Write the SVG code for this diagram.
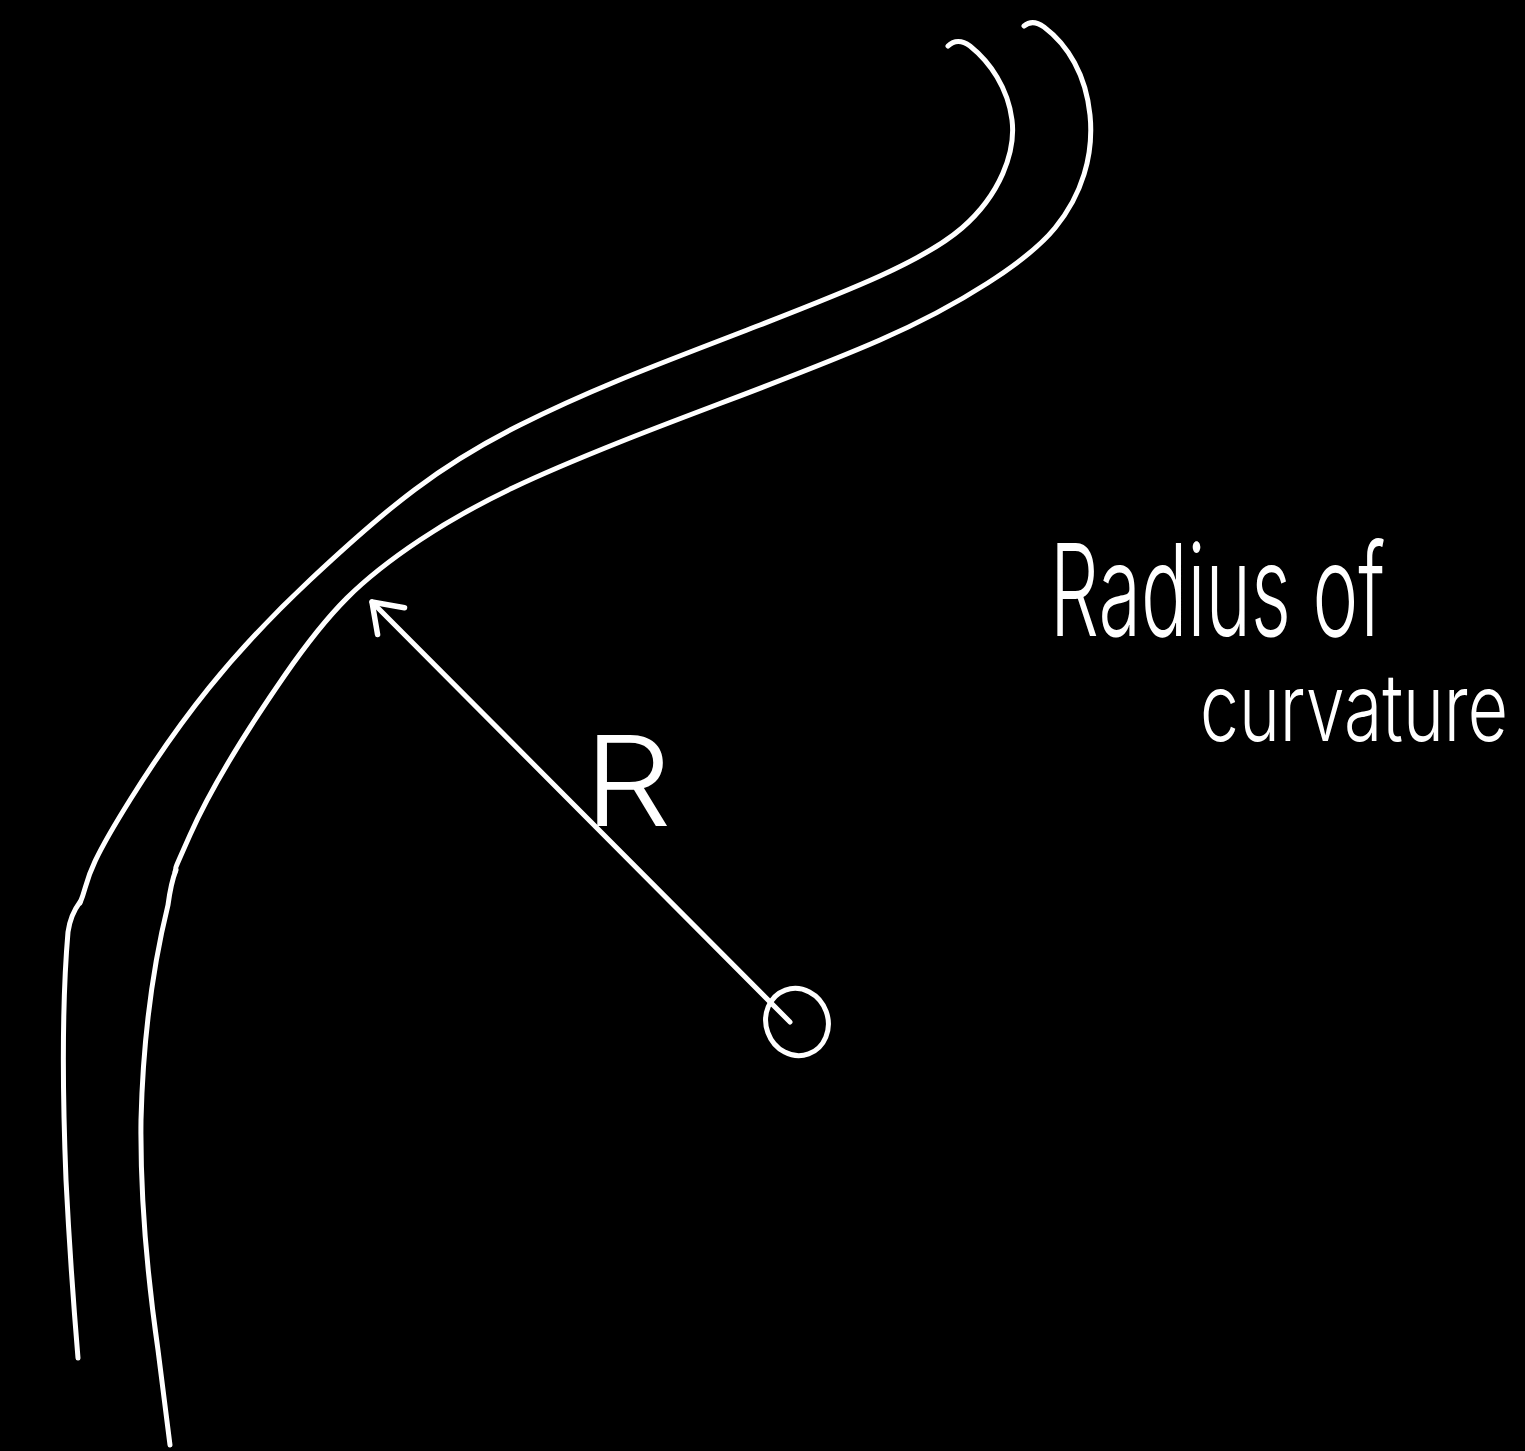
<svg xmlns="http://www.w3.org/2000/svg" width="1525" height="1451" viewBox="0 0 1525 1451">
  <style>
    .ink { fill: none; stroke: #ffffff; stroke-width: 5; stroke-linecap: round; stroke-linejoin: round; }
    .hand { fill: #ffffff; font-family: "Inter", "Lato", "Liberation Sans", sans-serif; font-weight: 300; }
  </style>
  <defs>
    <marker id="chev" markerUnits="userSpaceOnUse" markerWidth="60" markerHeight="60" refX="0" refY="0" viewBox="-40 -30 50 60" orient="auto" overflow="visible">
      <path d="M-27,-19 L0,0 L-27,19" fill="none" stroke="#ffffff" stroke-width="5.5" stroke-linecap="round" stroke-linejoin="round"/>
    </marker>
  </defs>
  <rect width="1525" height="1451" fill="#000000"/>
  <g id="outer-wall">
    <path class="ink" d="M948,46 C954,40 962,40 970,46 C990,62 1008,88 1012,120 S1000,195 962,228 S850,290 760,325 S600,385 520,425 S390,505 310,580 S180,720 130,800 S90,880 80,903"/>
    <path class="ink" d="M80,902 C74,910 70,918 68,932 C63,990 62,1080 66,1180 C70,1260 74,1310 78,1358"/>
  </g>
  <g id="inner-wall">
    <path class="ink" d="M1024,26 C1030,21 1037,22 1044,27 C1068,45 1086,75 1090,115 S1082,195 1055,228 S960,305 880,340 S700,410 620,442 S480,500 420,540 S330,610 285,675 S210,790 190,835 S178,862 175,872"/>
    <path class="ink" d="M176,870 C172,880 170,890 168,905 C152,970 143,1040 141,1120 C140,1200 148,1280 158,1350 C163,1390 167,1420 170,1445"/>
  </g>
  <g id="center">
    <ellipse class="ink" cx="797" cy="1022" rx="31" ry="34" transform="rotate(-20 797 1022)"/>
  </g>
  <g id="connectors">
    <path class="ink" d="M790,1022 L372,602" marker-end="url(#chev)"/>
  </g>
  <g id="label-R">
    <text class="hand" x="584" y="826" font-size="125" textLength="88" lengthAdjust="spacingAndGlyphs">R</text>
  </g>
  <g id="label-radius">
    <text class="hand" transform="translate(1050,636) scale(1,1.5)" x="0" y="0" font-size="85" textLength="335" lengthAdjust="spacingAndGlyphs">Radius of</text>
    <text class="hand" transform="translate(1200,741) scale(1,1.38)" x="0" y="0" font-size="68" textLength="308" lengthAdjust="spacingAndGlyphs">curvature</text>
  </g>
</svg>
